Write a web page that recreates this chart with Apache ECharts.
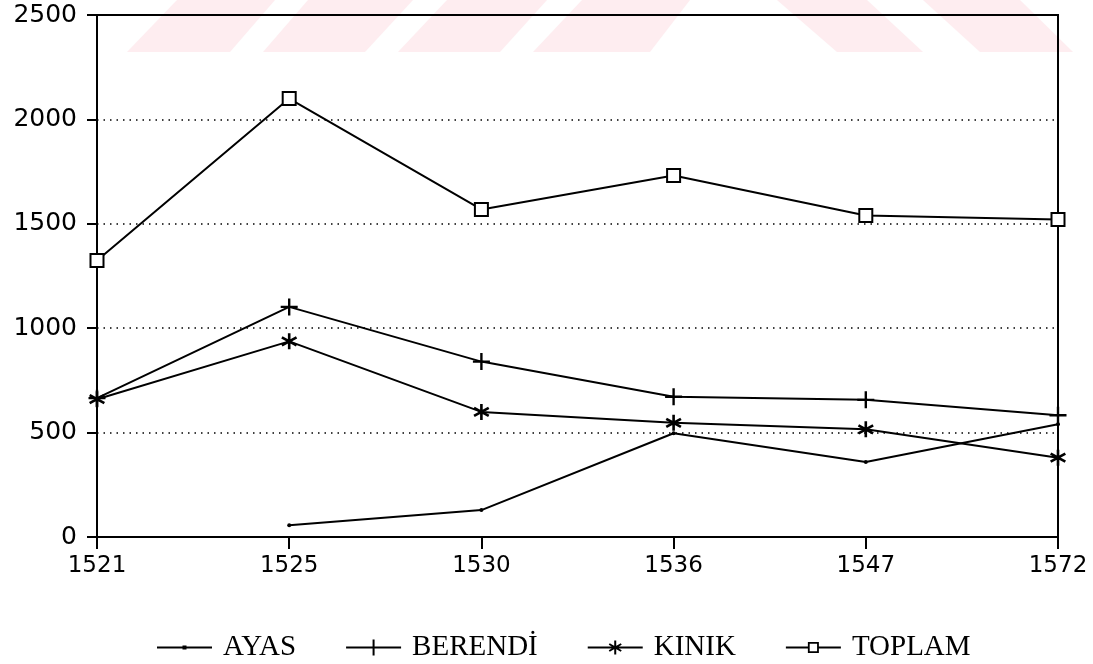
<!DOCTYPE html>
<html>
<head>
<meta charset="utf-8">
<script src="https://cdn.jsdelivr.net/npm/echarts@6/dist/echarts.min.js"></script>
<style>
  html, body { margin: 0; padding: 0; background: #fff; }
  #chart { width: 1093px; height: 664px; }
</style>
</head>
<body>
<div id="chart"></div>
<script>
// yillar ve seriler
var years = ['1521', '1525', '1530', '1536', '1547', '1572'];
var ayas = [null, 56, 129, 497, 359, 540];
var berendi = [665, 1102, 840, 672, 657, 583];
var kinik = [660, 937, 599, 547, 516, 380];
var toplam = [1324, 2100, 1569, 1731, 1540, 1520];

// isaretler
var plusSym = 'path://M4.3,0h1.4v10h-1.4zM0,4.3h10v1.4h-10z';
var starSym = 'path://M4.2,0h1.6v10h-1.6zM0.1,3.2L0.9,1.8L9.9,6.8L9.1,8.2zM0.1,6.8L9.1,1.8L9.9,3.2L0.9,8.2z';

// lejant ikonlari (55x16 kutu, koselerdeki minik kareler kutuyu sabitler)
var box = 'M0,0h0.01v0.01h-0.01zM54.99,15.99h0.01v0.01h-0.01z';
var bar = 'M0,7h55v2h-55z';
var legendIcons = {
  'AYAS': 'path://' + box + bar + 'M25.5,6h4v4h-4z',
  'BERENDİ': 'path://' + box + bar + 'M26.5,0h2v16h-2z',
  'KINIK': 'path://' + box + bar + 'M26.5,1h2v14h-2zM21.0,5.3L22.0,3.7L34.0,10.7L33.0,12.3zM21.0,10.7L33.0,3.7L34.0,5.3L22.0,12.3z',
  'TOPLAM': 'path://' + box + 'M0,7h22v2h-22zM33,7h22v2h-22zM22,2.5h11v11h-11zM23.8,4.3v7.4h7.4v-7.4z'
};

// arka plandaki soluk filigran seritleri
var stripes = [
  [[127, 52], [230, 52], [275, 0], [177, 0]],
  [[263, 52], [365, 52], [413, 0], [308, 0]],
  [[398, 52], [500, 52], [547, 0], [447, 0]],
  [[533, 52], [650, 52], [690, 0], [582, 0]],
  [[777, 0], [867, 0], [923, 52], [837, 52]],
  [[923, 0], [1020, 0], [1073, 52], [980, 52]]
];

var chart = echarts.init(document.getElementById('chart'));

function line(name, data, symbol, size) {
  return {
    name: name,
    type: 'line',
    data: data,
    symbol: symbol,
    symbolSize: size,
    connectNulls: false,
    lineStyle: { color: '#000', width: 2 },
    itemStyle: { color: '#000', borderColor: '#000', borderWidth: symbol === 'emptyRect' ? 2 : 0 }
  };
}

chart.setOption({
  animation: false,
  backgroundColor: '#fff',
  graphic: stripes.map(function (p) {
    return { type: 'polygon', z: -1, silent: true, shape: { points: p }, style: { fill: '#feedf0' } };
  }),
  grid: {
    left: 97, right: 35, top: 15, bottom: 127,
    show: true, borderColor: '#000', borderWidth: 2
  },
  legend: {
    top: 628,
    left: 152,
    itemWidth: 55,
    itemHeight: 16,
    itemGap: 50,
    itemStyle: { borderWidth: 0 },
    textStyle: { fontFamily: 'Liberation Serif', fontSize: 29, color: '#000', padding: [0, 0, 0, 6] },
    data: ['AYAS', 'BERENDİ', 'KINIK', 'TOPLAM'].map(function (n) {
      return { name: n, icon: legendIcons[n] };
    })
  },
  xAxis: {
    type: 'category',
    data: years,
    boundaryGap: false,
    axisLine: { lineStyle: { color: '#000', width: 2 } },
    axisTick: { length: 12, lineStyle: { color: '#000', width: 2 } },
    axisLabel: { margin: 18, fontFamily: 'DejaVu Sans', fontSize: 23, color: '#000' },
    splitLine: { show: false }
  },
  yAxis: {
    type: 'value',
    min: 0,
    max: 2500,
    interval: 500,
    axisLine: { show: true, lineStyle: { color: '#000', width: 2 } },
    axisTick: { show: true, length: 10, lineStyle: { color: '#000', width: 2 } },
    axisLabel: {
      margin: 20, fontFamily: 'DejaVu Sans', fontSize: 25, color: '#000',
      formatter: function (v) { return String(v); }
    },
    splitLine: { lineStyle: { color: '#000', width: 1.5, type: [1.5, 5] } }
  },
  series: [
    line('AYAS', ayas, 'circle', 4),
    line('BERENDİ', berendi, plusSym, 17),
    line('KINIK', kinik, starSym, 16),
    line('TOPLAM', toplam, 'emptyRect', 13)
  ]
});
</script>
</body>
</html>
